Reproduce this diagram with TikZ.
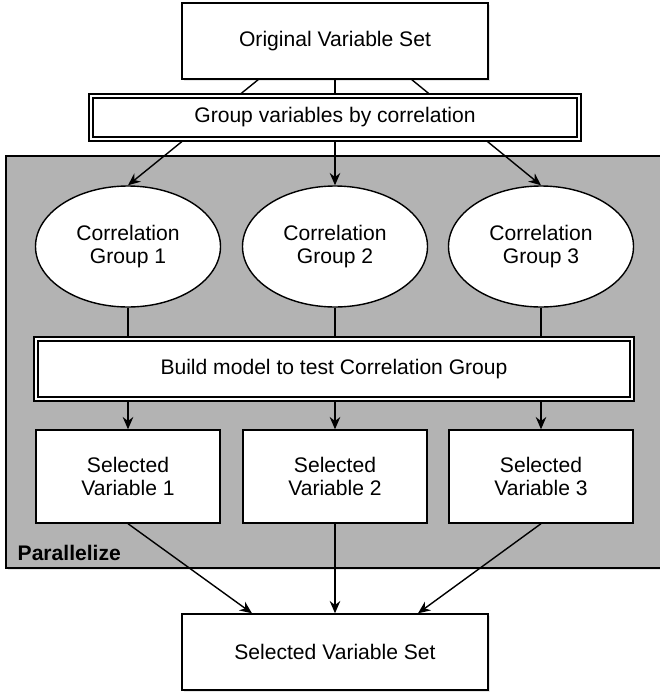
\documentclass[tikz,border=0pt]{standalone}
\usepackage{fontspec}
\setmainfont{Liberation Sans}
\usetikzlibrary{calc, positioning, shapes, arrows.meta, shadows}
\definecolor{panel}{RGB}{179,179,179}
\tikzstyle{box}=[rectangle, draw, fill=white, align=center, inner sep=0pt]
\tikzstyle{dbox}=[box, double, double distance=1.3pt]
\tikzstyle{blob}=[ellipse, draw, fill=white, align=center, inner sep=0pt, minimum width=3.7cm, minimum height=2.42cm]
\tikzstyle{soft}=[drop shadow={opacity=0.2, shadow xshift=1.2pt, shadow yshift=-1.2pt}]

\begin{document}
\begin{tikzpicture}[thick, >={Stealth[length=7pt,width=6pt]}, font=\fontsize{12}{13.6}\selectfont]
\useasboundingbox (0,0) rectangle (13.18,-13.88);
% parallel region
\draw [fill=panel, soft] (0.12,-3.12) rectangle (13.3,-11.36);
\node [anchor=base west, inner sep=0pt] (par) at (0.34,-11.2) {\textbf{Parallelize}};

\node [box, soft, minimum width=6.12cm, minimum height=1.52cm] (orig) at (6.7,-0.82) {Original Variable Set};
\node [blob] (g1) at (2.56,-4.93) {Correlation\\Group 1};
\node [blob] (g2) at (6.7,-4.93) {Correlation\\Group 2};
\node [blob] (g3) at (10.82,-4.93) {Correlation\\Group 3};
\draw [->] ($(orig.south west)!0.25!(orig.south east)$) -- (g1.north);
\draw [->] (orig.south) -- (g2.north);
\draw [->] ($(orig.south west)!0.75!(orig.south east)$) -- (g3.north);
\node [dbox, soft, minimum width=9.76cm, minimum height=0.86cm] (grp) at (6.7,-2.35) {Group variables by correlation};

\tikzstyle{every node}=[box, minimum width=3.68cm, minimum height=1.86cm];
\node (s1) at (2.56,-9.53) {Selected\\Variable 1};
\node (s2) at (6.7,-9.53) {Selected\\Variable 2};
\node (s3) at (10.82,-9.53) {Selected\\Variable 3};
\draw [->] (g1.south) -- (s1.north);
\draw [->] (g2.south) -- (s2.north);
\draw [->] (g3.south) -- (s3.north);
\node [dbox, minimum width=11.92cm, minimum height=1.2cm] (build) at (6.68,-7.38) {Build model to test Correlation Group};

\node [soft, minimum width=6.12cm, minimum height=1.52cm] (out) at (6.7,-13.04) {Selected Variable Set};
\draw [->] (s1.south) -- ($(out.north west)!0.23!(out.north east)$);
\draw [->] (s2.south) -- (out.north);
\draw [->] (s3.south) -- ($(out.north west)!0.77!(out.north east)$);
\end{tikzpicture}
\end{document}
